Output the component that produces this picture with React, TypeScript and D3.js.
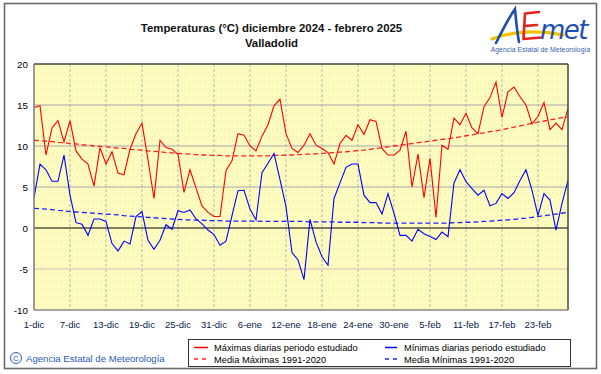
import React from "react";
import * as d3 from "d3";

const dateLabels = ["1-dic","7-dic","13-dic","19-dic","25-dic","31-dic","6-ene","12-ene","18-ene","24-ene","30-ene","5-feb","11-feb","17-feb","23-feb"];
const yTicks = [-10, -5, 0, 5, 10, 15, 20];

const maxT = [14.7,14.9,8.9,12.2,13.1,10.5,13.1,9.4,8.4,7.8,
  5.1,9.8,7.8,9.3,6.7,6.5,9.6,11.5,12.8,8.3,
  3.6,10.7,9.8,9.6,9.0,4.35,7.1,4.9,2.7,1.9,
  1.4,1.4,7.0,8.2,11.5,11.3,10.0,9.4,11.2,12.6,
  14.9,15.7,11.5,9.7,9.2,10.1,11.5,10.1,9.7,9.2,
  7.8,10.3,11.3,10.7,12.6,11.4,13.2,13.0,9.7,8.9,
  8.9,9.5,11.8,5.0,9.0,3.7,8.5,1.3,10.1,9.6,
  13.4,12.6,14.0,12.2,11.5,14.8,15.9,17.8,13.5,16.6,
  17.2,16.0,15.0,12.7,13.6,15.3,12.0,12.8,12.0,14.6];

const minT = [3.7,7.8,7.1,5.7,5.7,8.9,4.0,0.65,0.45,-0.9,
  1.1,1.1,0.8,-1.9,-2.8,-1.6,-1.95,1.4,2.0,-1.5,
  -2.6,-1.5,0.4,-0.15,2.1,1.9,2.2,1.1,0.5,-0.25,
  -0.8,-2.1,-1.6,1.5,4.55,4.6,2.3,1.0,6.75,7.9,
  9.1,5.9,2.6,-3.0,-3.9,-6.3,1.05,-1.7,-3.5,-4.55,
  3.6,5.5,7.4,7.8,7.8,4.0,3.1,3.1,1.7,4.2,
  1.8,-0.9,-0.9,-1.6,-0.15,-0.7,-1.05,-1.4,-0.5,-1.05,
  5.5,7.1,5.65,4.8,4.0,4.6,2.7,3.0,4.2,3.6,
  4.3,5.8,7.1,4.6,1.5,4.2,3.4,-0.25,3.0,5.8];

const normMax = [10.7,10.65,10.6,10.55,10.45,10.4,
  10.3,10.25,10.15,10.1,10.0,9.95,
  9.9,9.8,9.75,9.7,9.6,9.55,
  9.5,9.4,9.35,9.3,9.2,9.15,
  9.1,9.05,9.0,8.95,8.9,8.9,
  8.85,8.85,8.8,8.8,8.8,8.8,
  8.8,8.8,8.8,8.8,8.85,8.85,
  8.9,8.9,8.95,9.0,9.0,9.05,
  9.1,9.15,9.2,9.25,9.3,9.35,
  9.45,9.5,9.6,9.7,9.8,9.9,
  10.0,10.1,10.2,10.3,10.4,10.5,
  10.6,10.7,10.8,10.9,11.0,11.1,
  11.25,11.35,11.5,11.6,11.75,11.85,
  12.0,12.15,12.3,12.45,12.6,12.75,
  12.9,13.05,13.2,13.3,13.45,13.55];

const normMin = [2.4,2.35,2.3,2.25,2.15,2.1,
  2.0,1.95,1.9,1.85,1.8,1.75,
  1.7,1.65,1.6,1.5,1.45,1.4,
  1.35,1.3,1.25,1.2,1.15,1.1,
  1.05,1.0,1.0,0.95,0.95,0.9,
  0.9,0.9,0.85,0.85,0.85,0.85,
  0.85,0.85,0.8,0.8,0.8,0.8,
  0.8,0.8,0.8,0.8,0.75,0.75,
  0.75,0.75,0.75,0.7,0.7,0.7,
  0.7,0.65,0.65,0.65,0.6,0.6,
  0.6,0.6,0.6,0.6,0.6,0.6,
  0.6,0.6,0.6,0.6,0.65,0.65,
  0.7,0.7,0.75,0.8,0.85,0.9,
  0.95,1.0,1.05,1.15,1.2,1.3,
  1.4,1.5,1.6,1.7,1.8,1.9];

const W = 601, H = 374;
const PL = 34, PR = 568, PT = 64, PB = 310;
const FONT = "'Liberation Sans', Arial, sans-serif";

export default function App() {
  const x = d3.scaleLinear().domain([0, maxT.length - 1]).range([PL, PR]);
  const y = d3.scaleLinear().domain([-10, 20]).range([PB, PT]);
  const line = d3.line<number>().x((_, i) => x(i)).y((d) => y(d));
  const tickIdx = dateLabels.map((_, i) => i * 6);

  return (
    <div style={{ position: "absolute", left: 0, top: 0 }}>
      <svg width={W} height={H} style={{ display: "block", background: "#fff" }} fontFamily={FONT}>
        <defs>
          <pattern id="dots" width="4" height="4" patternUnits="userSpaceOnUse">
            <rect width="4" height="4" fill="#fffdbe" />
            <rect x="0" y="0" width="1" height="1" fill="#ecebc0" />
            <rect x="2" y="2" width="1" height="1" fill="#f2f0bc" />
          </pattern>
          <clipPath id="plotclip">
            <rect x={PL} y={PT} width={PR - PL} height={PB - PT} />
          </clipPath>
        </defs>
        {/* outer frame */}
        <rect x={4.5} y={3.5} width={592} height={365} fill="none" stroke="#6a6a6a" strokeWidth={1.6} />

        {/* title */}
        <text x={271.5} y={31.5} textAnchor="middle" fontSize={11.4} fontWeight="bold" fill="#111">
          Temperaturas (°C) diciembre 2024 - febrero 2025
        </text>
        <text x={271.5} y={46.5} textAnchor="middle" fontSize={11.4} fontWeight="bold" fill="#111">
          Valladolid
        </text>

        {/* logo */}
        <g>
          <path d="M492,39 C512,31 540,30 563,35" fill="none" stroke="#f3c300" strokeWidth={3.2} strokeLinecap="round" />
          <path d="M496,43 C502,31 508,19 515,9 C516,20 517,32 519,42" fill="none" stroke="#1e4fb0" strokeWidth={2.6} strokeLinecap="round" />
          <path d="M539,12 L525,13.5 L523.5,39 L541,37.5 M524.5,26 L537,25" fill="none" stroke="#e4241b" strokeWidth={2.6} strokeLinecap="round" strokeLinejoin="round" />
          <text x={540} y={39} fontSize={26} fontStyle="italic" fill="#1e4fb0" fontFamily="'DejaVu Sans', sans-serif" letterSpacing={-1.5}>met</text>
          <text x={540.5} y={52} textAnchor="middle" fontSize={6.9} fill="#3a5fb0">Agencia Estatal de Meteorología</text>
        </g>

        {/* plot background */}
        <rect x={PL} y={PT} width={PR - PL} height={PB - PT} fill="url(#dots)" />

        {/* vertical grid */}
        {tickIdx.slice(1).map((i) => (
          <line key={"v" + i} x1={x(i)} x2={x(i)} y1={PT} y2={PB} stroke="#c4c4b4" strokeWidth={1.2} strokeDasharray="3,2" />
        ))}
        {/* horizontal grid */}
        {yTicks.filter((t) => t !== -10 && t !== 20).map((t) => (
          <line key={"h" + t} x1={PL} x2={PR} y1={y(t)} y2={y(t)}
            stroke={t === 0 ? "#000" : t === -5 ? "#d8b8b8" : "#a8a8b4"} strokeWidth={t === 0 ? 1.2 : 1} />
        ))}

        {/* series */}
        <g clipPath="url(#plotclip)">
          <path d={line(normMax) || ""} fill="none" stroke="#ff2020" strokeWidth={1.3} strokeDasharray="5,3" />
          <path d={line(normMin) || ""} fill="none" stroke="#2020ff" strokeWidth={1.3} strokeDasharray="5,3" />
          <path d={line(maxT) || ""} fill="none" stroke="#ff0000" strokeWidth={1.1} />
          <path d={line(minT) || ""} fill="none" stroke="#0000ff" strokeWidth={1.1} />
        </g>

        {/* plot frame */}
        <line x1={PL} x2={PR} y1={PT} y2={PT} stroke="#3c4a3c" strokeWidth={1.5} />
        <line x1={PR} x2={PR} y1={PT} y2={PB} stroke="#3c4a3c" strokeWidth={1.5} />
        <line x1={PL} x2={PL} y1={PT} y2={PB} stroke="#7a7a7a" strokeWidth={1.5} />
        <line x1={PL} x2={PR} y1={PB} y2={PB} stroke="#8a8a8a" strokeWidth={1.5} />

        {/* y tick labels */}
        {yTicks.map((t) => (
          <text key={"yl" + t} x={28} y={y(t) + 3.5} textAnchor="end" fontSize={9.8} fill="#000">{t}</text>
        ))}
        {/* x tick labels */}
        {dateLabels.map((lab, k) => (
          <text key={"xl" + k} x={x(tickIdx[k])} y={327.5} textAnchor="middle" fontSize={9.5} fill="#0a1a4a">{lab}</text>
        ))}

        {/* copyright */}
        <circle cx={16} cy={358} r={5.5} fill="none" stroke="#2e5cb8" strokeWidth={1} />
        <text x={16} y={361} textAnchor="middle" fontSize={8} fill="#2e5cb8">C</text>
        <text x={26} y={362} fontSize={9.6} fill="#2e5cb8">Agencia Estatal de Meteorología</text>

        {/* legend */}
        <rect x={188.5} y={339.5} width={382} height={27} fill="#fff" stroke="#333" strokeWidth={1} />
        <line x1={194} x2={208} y1={347.5} y2={347.5} stroke="#ff0000" strokeWidth={1.5} />
        <text x={214} y={351} fontSize={9.3} fill="#000">Máximas diarias periodo estudiado</text>
        <line x1={194} x2={208} y1={359} y2={359} stroke="#ff2020" strokeWidth={1.3} strokeDasharray="4,4" />
        <text x={214} y={362.5} fontSize={9.3} fill="#000">Media Máximas 1991-2020</text>
        <line x1={385} x2={397} y1={347.5} y2={347.5} stroke="#0000ff" strokeWidth={1.5} />
        <text x={404} y={351} fontSize={9.3} fill="#000">Mínimas diarias periodo estudiado</text>
        <line x1={385} x2={397} y1={359} y2={359} stroke="#2020ff" strokeWidth={1.3} strokeDasharray="4,4" />
        <text x={404} y={362.5} fontSize={9.3} fill="#000">Media Mínimas 1991-2020</text>
      </svg>
    </div>
  );
}
